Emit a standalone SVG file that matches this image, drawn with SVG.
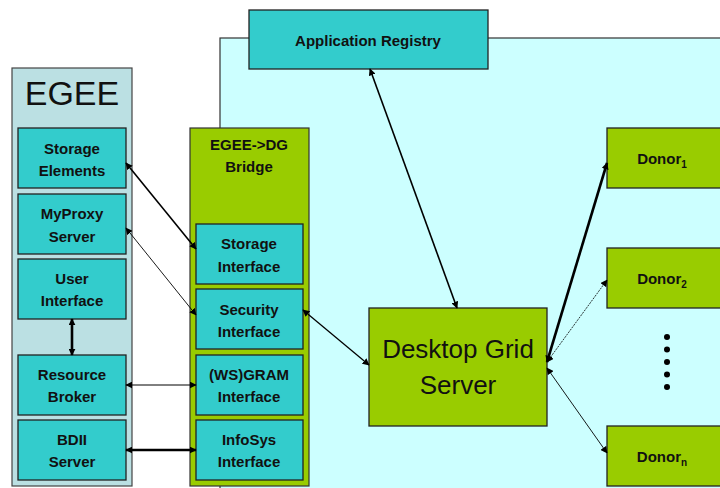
<svg xmlns="http://www.w3.org/2000/svg" width="720" height="488" viewBox="0 0 720 488">
<defs>
<marker id="a" viewBox="0 0 10 10" refX="9" refY="5" markerWidth="7" markerHeight="7" markerUnits="userSpaceOnUse" orient="auto-start-reverse"><path d="M0,0 L10,5 L0,10 z" fill="#000"/></marker>
<style>
.t{fill:#33CCCC;stroke:#222;stroke-width:1.3}
.g{fill:#99CC00;stroke:#222;stroke-width:1.3}
.lb{font-family:"Liberation Sans",Arial,sans-serif;font-weight:bold;font-size:15px;fill:#111;text-anchor:middle}
.c{fill:none;stroke:#000;marker-start:url(#a);marker-end:url(#a)}
</style>
</defs>
<rect width="720" height="488" fill="#fff"/>
<g id="desktop-grid-area"><rect x="220" y="38" width="510" height="460" fill="#CCFFFF" stroke="#333" stroke-width="1.2"/></g>
<g id="egee"><rect x="12" y="68" width="120" height="418" fill="#BBE0E3" stroke="#444" stroke-width="1.2"/>
<text x="72" y="105" font-family="Liberation Sans,Arial,sans-serif" font-size="34" text-anchor="middle" fill="#111">EGEE</text></g>
<g id="storage-elements"><rect class="t" x="18" y="128" width="108" height="60"/><text class="lb" x="72" y="154">Storage</text><text class="lb" x="72" y="176">Elements</text></g>
<g id="myproxy"><rect class="t" x="18" y="194" width="108" height="60"/><text class="lb" x="72" y="219">MyProxy</text><text class="lb" x="72" y="242">Server</text></g>
<g id="user-interface"><rect class="t" x="18" y="259" width="108" height="60"/><text class="lb" x="72" y="284">User</text><text class="lb" x="72" y="306">Interface</text></g>
<g id="resource-broker"><rect class="t" x="18" y="355" width="108" height="60"/><text class="lb" x="72" y="380">Resource</text><text class="lb" x="72" y="402">Broker</text></g>
<g id="bdii"><rect class="t" x="18" y="420" width="108" height="60"/><text class="lb" x="72" y="445">BDII</text><text class="lb" x="72" y="467">Server</text></g>
<g id="bridge"><rect x="190" y="128" width="119" height="358" fill="#99CC00" stroke="#333" stroke-width="1.2"/><text class="lb" x="249" y="150">EGEE-&gt;DG</text><text class="lb" x="249" y="172">Bridge</text></g>
<g id="storage-interface"><rect class="t" x="196" y="224" width="107" height="60"/><text class="lb" x="249" y="249">Storage</text><text class="lb" x="249" y="272">Interface</text></g>
<g id="security-interface"><rect class="t" x="196" y="289" width="107" height="60"/><text class="lb" x="249" y="315">Security</text><text class="lb" x="249" y="337">Interface</text></g>
<g id="gram-interface"><rect class="t" x="196" y="355" width="107" height="60"/><text class="lb" x="249" y="380">(WS)GRAM</text><text class="lb" x="249" y="402">Interface</text></g>
<g id="infosys-interface"><rect class="t" x="196" y="420" width="107" height="60"/><text class="lb" x="249" y="445">InfoSys</text><text class="lb" x="249" y="467">Interface</text></g>
<g id="application-registry"><rect class="t" x="249" y="10" width="239" height="59"/><text class="lb" x="368" y="46">Application Registry</text></g>
<g id="desktop-grid-server"><rect class="g" x="369" y="308" width="178" height="118"/><text x="458" y="358" font-family="Liberation Sans,Arial,sans-serif" font-size="26" text-anchor="middle" fill="#111">Desktop Grid</text><text x="458" y="394" font-family="Liberation Sans,Arial,sans-serif" font-size="26" text-anchor="middle" fill="#111">Server</text></g>
<g id="donor1"><rect class="g" x="607" y="128" width="120" height="60"/><text class="lb" x="662" y="164">Donor<tspan font-size="10" dy="4">1</tspan></text></g>
<g id="donor2"><rect class="g" x="607" y="248" width="120" height="60"/><text class="lb" x="662" y="284">Donor<tspan font-size="10" dy="4">2</tspan></text></g>
<g id="donorn"><rect class="g" x="607" y="426" width="120" height="60"/><text class="lb" x="662" y="462">Donor<tspan font-size="10" dy="4">n</tspan></text></g>
<g id="dots" fill="#000"><circle cx="667" cy="337" r="3"/><circle cx="667" cy="349.5" r="3"/><circle cx="667" cy="362" r="3"/><circle cx="667" cy="374.5" r="3"/><circle cx="667" cy="387" r="3"/></g>
<g id="connectors">
<line class="c" x1="126" y1="163" x2="196" y2="249" stroke-width="1.6"/>
<line class="c" x1="126" y1="228" x2="196" y2="315" stroke-width="0.9"/>
<line class="c" x1="72" y1="319" x2="72" y2="355" stroke-width="2.6"/>
<line class="c" x1="126" y1="385" x2="196" y2="385" stroke-width="1"/>
<line class="c" x1="126" y1="450" x2="196" y2="450" stroke-width="2.6"/>
<line class="c" x1="303" y1="310" x2="369" y2="365" stroke-width="1.3"/>
<line class="c" x1="370" y1="69" x2="457" y2="308" stroke-width="1.6"/>
<line class="c" x1="547" y1="362" x2="607" y2="163" stroke-width="2.6"/>
<line class="c" x1="547" y1="362" x2="607" y2="280" stroke-width="0.8" stroke-dasharray="2,1"/>
<line class="c" x1="547" y1="368" x2="607" y2="453" stroke-width="0.9"/>
</g>
</svg>
